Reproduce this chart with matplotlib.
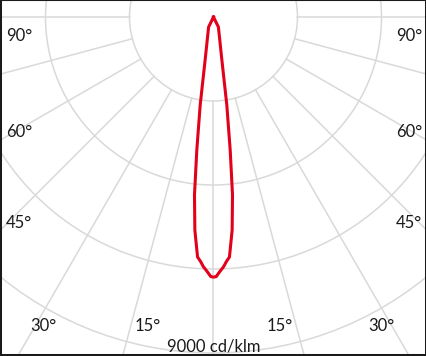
import numpy as np
import matplotlib.pyplot as plt
from matplotlib.patches import Circle

# light distribution, symmetric lobe (gamma angle in degrees, cd/klm)
gamma = [0, 0.6, 1.2, 1.7, 2.3, 3.0, 3.8, 4.2, 5.0, 6.1, 7.15, 8.6, 11, 26, 30]
intensity = [9290, 9270, 9140, 9040, 8930, 8750, 8590, 8250, 7640, 6390, 4790, 3180, 1570, 400, 0]

ring_values = [3000, 6000, 9000, 12000]
ray_angles = [-90, -75, -60, -45, -30, -15, 0, 15, 30, 45, 60, 75, 90]
side_labels = ["90°", "60°", "45°"]
bottom_labels = ["30°", "15°", "15°", "30°"]
scale_label = "9000 cd/klm"

grid_col = "#d9d9d9"
red = "#e2001a"

plt.rcParams["font.family"] = ["Lato", "DejaVu Sans"]

fig = plt.figure(figsize=(4.27, 3.56), dpi=100)
ax = fig.add_axes([0, 0, 1, 1])
px = 3000 / 84.0  # cd per pixel
ax.set_xlim(-213.5 * px, 213.5 * px)
ax.set_ylim(-339 * px, 17 * px)
ax.set_xticks([])
ax.set_yticks([])

# rings
for r in ring_values:
    ax.add_patch(Circle((0, 0), r, fill=False, ec=grid_col, lw=1.1, zorder=1))

# rays, starting at the inner ring
for a in ray_angles:
    t = np.radians(a)
    ax.plot([ring_values[0] * np.sin(t), 40000 * np.sin(t)],
            [-ring_values[0] * np.cos(t), -40000 * np.cos(t)],
            color=grid_col, lw=1.1, zorder=1)

# curve: left half down to nadir, then right half back up
g = np.radians(np.array(gamma))
I = np.array(intensity)
xs = np.concatenate([-I[::-1] * np.sin(g[::-1]), I[1:] * np.sin(g[1:])])
ys = np.concatenate([-I[::-1] * np.cos(g[::-1]), -I[1:] * np.cos(g[1:])])
ax.plot(xs, ys, color=red, lw=2.2, solid_joinstyle="round", zorder=3)

for side, w in [("left", 2.9), ("right", 2.9), ("bottom", 2.9), ("top", 1.5)]:
    ax.spines[side].set_color("#1a1a1a")
    ax.spines[side].set_linewidth(w)

W, H = 427.0, 356.0
fs = 12
for lab, yb in zip(side_labels, [41, 137, 228]):
    fig.text(19 / W, 1 - yb / H, lab, ha="center", va="baseline", fontsize=fs, color="#1a1a1a")
    fig.text(409 / W, 1 - yb / H, lab, ha="center", va="baseline", fontsize=fs, color="#1a1a1a")
for lab, xc in zip(bottom_labels, [43, 148, 280, 381.5]):
    fig.text(xc / W, 1 - 331 / H, lab, ha="center", va="baseline", fontsize=fs, color="#1a1a1a")
fig.text(213.5 / W, 1 - 351 / H, scale_label, ha="center", va="baseline", fontsize=fs, color="#1a1a1a")

fig.savefig("out.png", dpi=100)
